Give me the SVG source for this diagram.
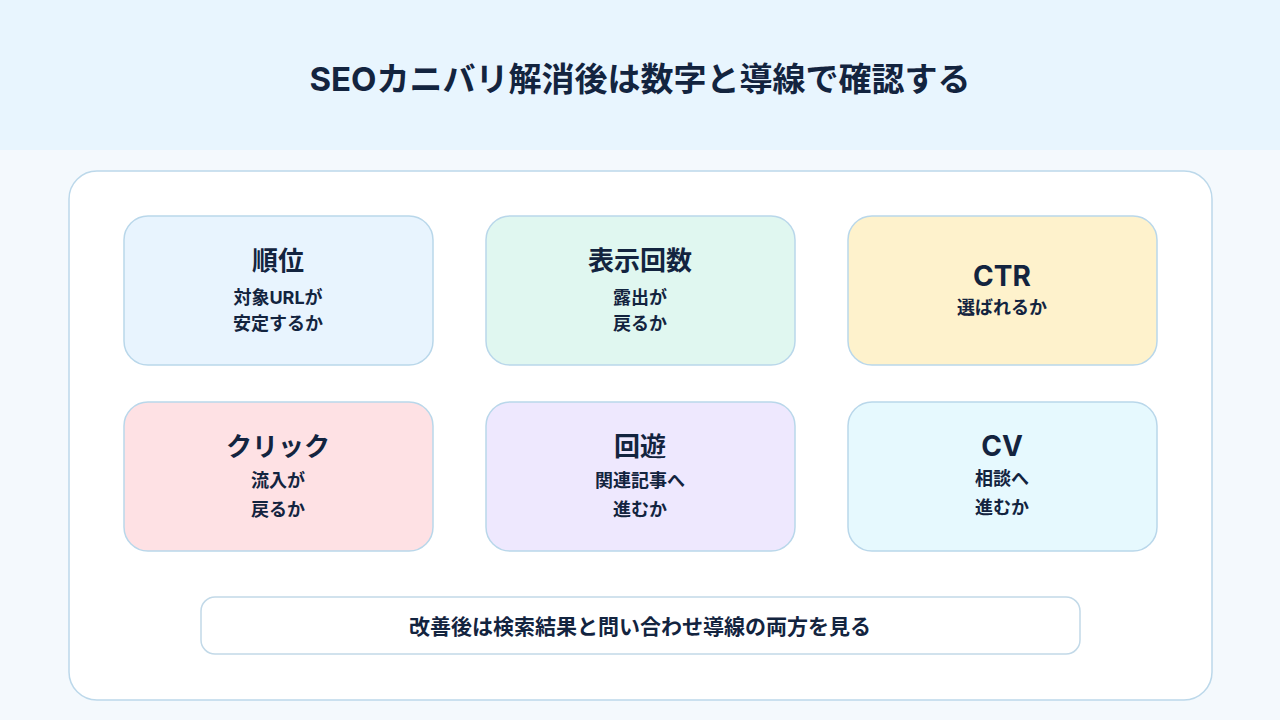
<svg xmlns="http://www.w3.org/2000/svg" width="1280" height="720" viewBox="0 0 1280 720">
<style>
text{font-family:"Inter","Noto Sans CJK JP","Noto Sans",sans-serif;font-weight:700;fill:#13243f;text-anchor:middle;dominant-baseline:central}
.t{font-size:26px}
.tl{font-size:28px}
.s{font-size:18px}
.card{stroke:#b9d7ea;stroke-width:1.5}
</style>
<rect x="0" y="0" width="1280" height="720" fill="#f4f9fd"/>
<rect x="0" y="0" width="1280" height="150" fill="#e8f5fe"/>
<text x="640" y="79" style="font-size:33px">SEOカニバリ解消後は数字と導線で確認する</text>
<rect x="69" y="171" width="1143" height="529" rx="28" fill="#ffffff" stroke="#bcd8ea" stroke-width="1.5"/>
<g id="node-rank">
<rect class="card" x="124" y="216" width="309" height="149" rx="24" fill="#e8f4fe"/>
<text class="t" x="278" y="260">順位</text>
<text class="s" x="278" y="297">対象URLが</text>
<text class="s" x="278" y="323">安定するか</text>
</g>
<g id="node-impressions">
<rect class="card" x="486" y="216" width="309" height="149" rx="24" fill="#e0f7f0"/>
<text class="t" x="640" y="260">表示回数</text>
<text class="s" x="640" y="297">露出が</text>
<text class="s" x="640" y="323">戻るか</text>
</g>
<g id="node-ctr">
<rect class="card" x="848" y="216" width="309" height="149" rx="24" fill="#fef2cc"/>
<text class="tl" x="1002" y="276">CTR</text>
<text class="s" x="1002" y="307">選ばれるか</text>
</g>
<g id="node-click">
<rect class="card" x="124" y="402" width="309" height="149" rx="24" fill="#fee1e4"/>
<text class="t" x="278" y="446">クリック</text>
<text class="s" x="278" y="480">流入が</text>
<text class="s" x="278" y="509">戻るか</text>
</g>
<g id="node-navigation">
<rect class="card" x="486" y="402" width="309" height="149" rx="24" fill="#eee8fe"/>
<text class="t" x="640" y="446">回遊</text>
<text class="s" x="640" y="480">関連記事へ</text>
<text class="s" x="640" y="509">進むか</text>
</g>
<g id="node-cv">
<rect class="card" x="848" y="402" width="309" height="149" rx="24" fill="#e6f9fe"/>
<text class="tl" x="1002" y="446">CV</text>
<text class="s" x="1002" y="478">相談へ</text>
<text class="s" x="1002" y="507">進むか</text>
</g>
<g id="node-note">
<rect x="201" y="597" width="879" height="57" rx="14" fill="#ffffff" stroke="#c2d9e8" stroke-width="1.5"/>
<text x="640" y="626" style="font-size:21px">改善後は検索結果と問い合わせ導線の両方を見る</text>
</g>
<g id="connectors"></g>
</svg>
